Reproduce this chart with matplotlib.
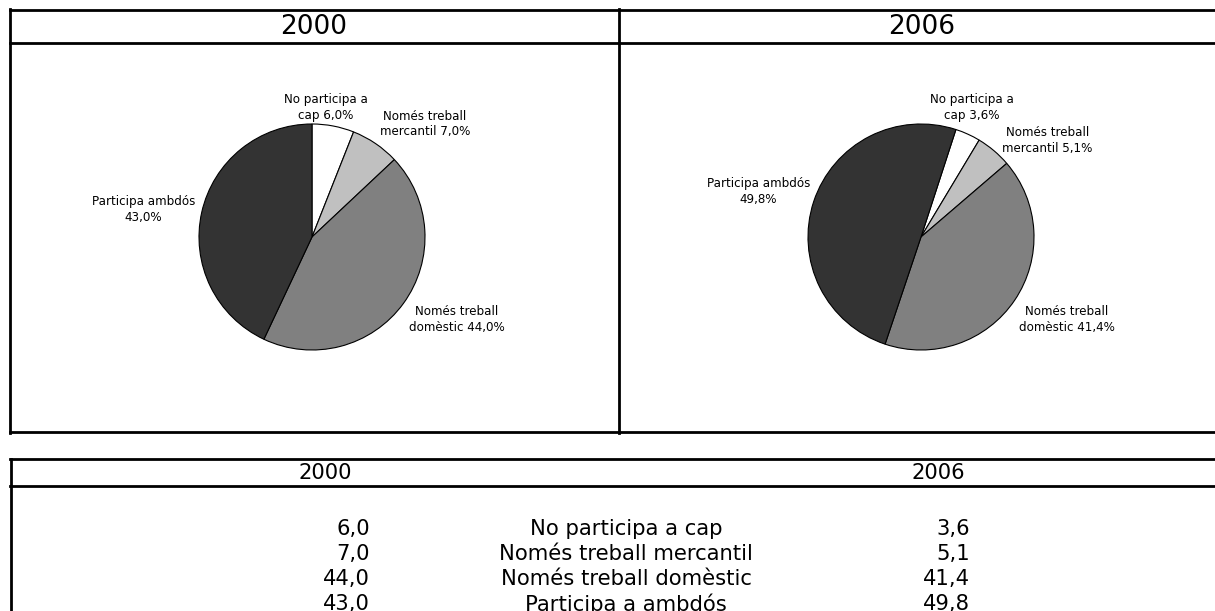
import matplotlib
matplotlib.use("Agg")
import matplotlib.pyplot as plt
from matplotlib.lines import Line2D

# Data
years = ["2000", "2006"]
categories = ["No participa a cap", "Només treball mercantil",
              "Només treball domèstic", "Participa a ambdós"]
pie_names = ["No participa a\ncap ", "Només treball\nmercantil ",
             "Només treball\ndomèstic ", "Participa ambdós\n"]
values_2000 = [6.0, 7.0, 44.0, 43.0]
values_2006 = [3.6, 5.1, 41.4, 49.8]

# Style / layout
slice_colors = ["#ffffff", "#c0c0c0", "#808080", "#333333"]
W, H = 1215, 611
start_angles = [90, 72]
pie_centers = [(312, 237), (921, 237)]
pie_radius = 113
# label offsets in units of pie radius
label_offsets = [
    [(0.12, 1.15), (1.00, 1.00), (1.28, -0.73), (-1.49, 0.24)],
    [(0.45, 1.15), (1.12, 0.85), (1.29, -0.73), (-1.44, 0.40)],
]


def fmt(v):
    return f"{v:.1f}".replace(".", ",")


def hline(fig, x0, x1, y, lw=2.0):
    fig.add_artist(Line2D([x0 / W, x1 / W], [1 - y / H, 1 - y / H],
                          transform=fig.transFigure, color="black", lw=lw))


def vline(fig, x, y0, y1, lw=2.0):
    fig.add_artist(Line2D([x / W, x / W], [1 - y0 / H, 1 - y1 / H],
                          transform=fig.transFigure, color="black", lw=lw))


def ftext(fig, x, y, s, **kw):
    fig.text(x / W, 1 - y / H, s, va="center", **kw)


fig = plt.figure(figsize=(W / 100, H / 100), dpi=100)
fig.patch.set_facecolor("white")

# top box
hline(fig, 10, W, 10)
hline(fig, 10, W, 43)
hline(fig, 10, W, 432)
vline(fig, 10, 9, 433)
vline(fig, 619, 9, 433)
ftext(fig, 314, 27, years[0], ha="center", fontsize=19)
ftext(fig, 922, 27, years[1], ha="center", fontsize=19)

# pies
for i, vals in enumerate([values_2000, values_2006]):
    cx, cy = pie_centers[i]
    r = pie_radius
    ax = fig.add_axes([(cx - r) / W, 1 - (cy + r) / H, 2 * r / W, 2 * r / H])
    ax.pie(vals, colors=slice_colors, startangle=start_angles[i],
           counterclock=False, radius=1,
           wedgeprops=dict(edgecolor="black", linewidth=0.8))
    ax.set_xlim(-1, 1)
    ax.set_ylim(-1, 1)
    ax.set_aspect("equal")
    ax.axis("off")
    for name, v, (dx, dy) in zip(pie_names, vals, label_offsets[i]):
        ax.text(dx, dy, name + fmt(v) + "%", ha="center", va="center",
                fontsize=8.6, linespacing=1.3, clip_on=False)

# bottom table
hline(fig, 10, W, 459)
hline(fig, 10, W, 486)
vline(fig, 11, 459, H)
ftext(fig, 325, 473, years[0], ha="center", fontsize=15.2)
ftext(fig, 938, 473, years[1], ha="center", fontsize=15.2)
row_y = [529, 554, 579, 604]
for y, cat, a, b in zip(row_y, categories, values_2000, values_2006):
    ftext(fig, 370, y, fmt(a), ha="right", fontsize=15.2)
    ftext(fig, 626, y, cat, ha="center", fontsize=15.2)
    ftext(fig, 970, y, fmt(b), ha="right", fontsize=15.2)

fig.savefig("out.png", dpi=100)
